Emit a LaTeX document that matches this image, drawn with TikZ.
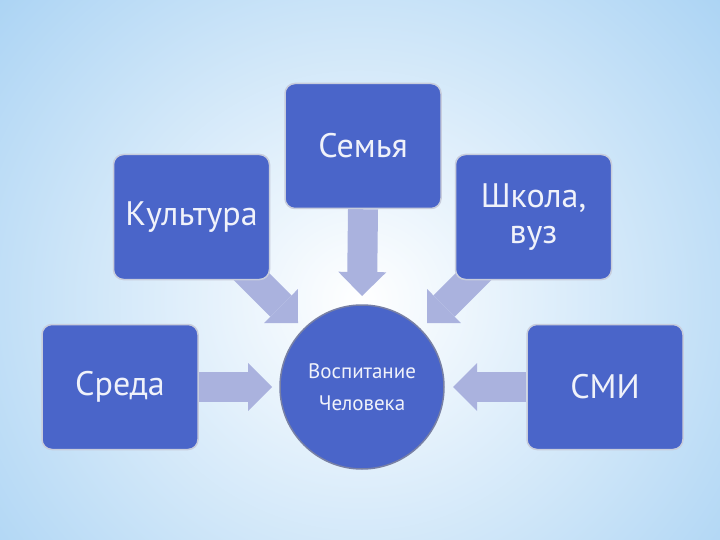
\documentclass[tikz,border=0pt]{standalone}
\usepackage{fontspec}
\setmainfont{PT Sans}
\usetikzlibrary{arrows.meta,fadings}
\definecolor{boxblue}{RGB}{74,101,201}
\definecolor{boxedge}{RGB}{200,205,220}
\definecolor{circedge}{RGB}{120,128,165}
\definecolor{arrowc}{RGB}{170,178,222}
\definecolor{txt}{RGB}{240,242,250}
\definecolor{bgblue}{RGB}{172,212,244}
\pgfdeclarelayer{back}
\pgfdeclarelayer{arrows}
\pgfsetlayers{back,arrows,main}
\tikzfading[name=hband, top color=transparent!100, middle color=transparent!35, bottom color=transparent!100]
\tikzset{
  box/.style={draw=boxedge, line width=1.5pt, fill=boxblue, rounded corners=10pt,
    minimum width=156pt, minimum height=125pt, text=txt, inner sep=0pt,
    font=\fontsize{34}{36}\selectfont, align=center},
  hub/.style={circle, draw=circedge, line width=1.5pt, fill=boxblue, minimum size=164pt,
    text=txt, inner sep=0pt, font=\fontsize{21}{32}\selectfont, align=center},
  barrow/.style={draw=arrowc, line width=30pt,
    -{Triangle[length=24pt 0, width=48pt 0, line width=0pt 0]}}
}
\begin{document}
\begin{tikzpicture}[x=1pt,y=-1pt]
\useasboundingbox (0,0) rectangle (720,540);
\begin{pgfonlayer}{back}
  \clip (0,0) rectangle (720,540);
  \shade[inner color=white, outer color=bgblue] (-120,-160) rectangle (840,760);
  \fill[white, path fading=hband] (0,345) rectangle (720,425);
\end{pgfonlayer}
\node[box] (semya) at (363,146) {Семья};
\node[box] (kult) at (191.5,217) {Культура};
\node[box] (shk) at (533.5,217) {Школа,\\вуз};
\node[box] (sreda) at (120,387) {Среда};
\node[box] (smi) at (605,387) {СМИ};
\node[hub] (hub) at (362,387) {Воспитание\\Человека};
\coordinate (tipd) at (362,296);
\coordinate (tipl) at (298,323);
\coordinate (tipr) at (427,323);
\coordinate (tipw) at (272,387);
\coordinate (tipe) at (453,387);
\begin{pgfonlayer}{arrows}
  \draw[barrow] (semya.south) -- (tipd);
  \draw[barrow] (kult.center) -- (tipl);
  \draw[barrow] (shk.center) -- (tipr);
  \draw[barrow] (sreda.east) -- (tipw);
  \draw[barrow] (smi.west) -- (tipe);
\end{pgfonlayer}
\end{tikzpicture}
\end{document}
